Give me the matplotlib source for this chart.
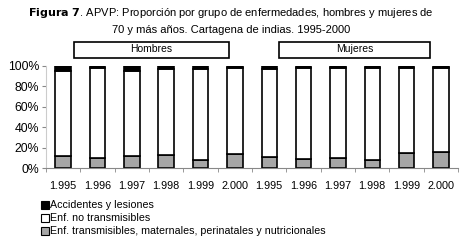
import matplotlib.pyplot as plt
import matplotlib.patches as mpatches
import numpy as np

plt.rcParams['font.family'] = ['Liberation Sans', 'DejaVu Sans']

anios = ['1.995', '1.996', '1.997', '1.998', '1.999', '2.000'] * 2
# porcentajes (hombres 1995-2000, mujeres 1995-2000)
transmisibles = [12, 10, 12, 13, 8, 14, 11, 9, 10, 8, 15, 16]
accidentes = [5, 2, 5, 3, 3, 2, 3, 2, 2, 2, 2, 2]
no_transmisibles = [100 - t - a for t, a in zip(transmisibles, accidentes)]

fig = plt.figure(figsize=(4.62, 2.45), dpi=100)
ax = fig.add_axes([0.0996, 0.314, 0.892, 0.417])

x = np.arange(len(anios))
w = 0.45
ax.bar(x, transmisibles, w, color='#a6a6a6', edgecolor='black', linewidth=1.2)
ax.bar(x, no_transmisibles, w, bottom=transmisibles, color='white', edgecolor='black', linewidth=1.2)
ax.bar(x, accidentes, w, bottom=np.array(transmisibles) + np.array(no_transmisibles),
       color='black', edgecolor='black', linewidth=1.2)

ax.set_xlim(-0.5, len(anios) - 0.5)
ax.set_ylim(0, 100)
ax.set_yticks([0, 20, 40, 60, 80, 100])
ax.set_yticklabels(['0%', '20%', '40%', '60%', '80%', '100%'], fontsize=8.8)
ax.set_xticks(x)
ax.set_xticklabels(anios, fontsize=7.8)
ax.set_xticks(np.arange(-0.5, len(anios)), minor=True)
ax.tick_params(axis='x', which='major', length=0, pad=9)
ax.tick_params(axis='x', which='minor', length=3, color='#888888')
ax.tick_params(axis='y', length=3, color='#888888', pad=2)
for s in ['top', 'right']:
    ax.spines[s].set_visible(False)
ax.spines['left'].set_color('#cccccc')
ax.spines['bottom'].set_color('#888888')

# cajas de grupo
for x0, x1, txt in [(74, 229, 'Hombres'), (279, 430, 'Mujeres')]:
    fig.patches.append(mpatches.Rectangle((x0 / 462, 1 - 58 / 245), (x1 - x0) / 462, 16 / 245,
                                          transform=fig.transFigure, facecolor='white',
                                          edgecolor='black', linewidth=1.2))
    fig.text((x0 + x1) / 2 / 462, 1 - 49 / 245, txt, ha='center', va='center', fontsize=7.5)

# titulo
fig.text(0.5, 1 - 13 / 245, r'$\bf{Figura\ 7}$' + '. APVP: Proporción por grupo de enfermedades, hombres y mujeres de',
         ha='center', va='center', fontsize=8.0)
fig.text(0.5, 1 - 30 / 245, '70 y más años. Cartagena de indias. 1995-2000',
         ha='center', va='center', fontsize=8.0)

# leyenda
ley = [('Accidentes y lesiones', 'black'),
       ('Enf. no transmisibles', 'white'),
       ('Enf. transmisibles, maternales, perinatales y nutricionales', '#a6a6a6')]
for i, (txt, c) in enumerate(ley):
    yy = 205 + i * 13
    fig.patches.append(mpatches.Rectangle((41 / 462, 1 - (yy + 4) / 245), 8 / 462, 8 / 245,
                                          transform=fig.transFigure, facecolor=c,
                                          edgecolor='black', linewidth=0.8))
    fig.text(50 / 462, 1 - yy / 245, txt, ha='left', va='center', fontsize=7.7)

fig.savefig('out.png', dpi=100)
